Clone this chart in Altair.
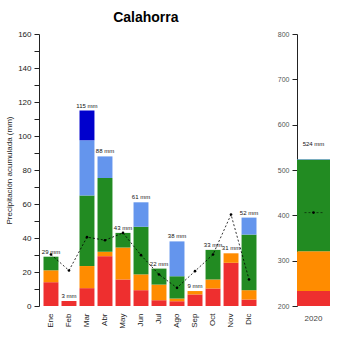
import altair as alt
import pandas as pd

months = ["Ene", "Feb", "Mar", "Abr", "May", "Jun", "Jul", "Ago", "Sep", "Oct", "Nov", "Dic"]
red = [14, 3, 10.5, 29.3, 15.6, 9.3, 3.4, 2.8, 6.8, 10.3, 25.4, 3.8]
orange = [7, 0, 13, 2.6, 18.8, 9.3, 9.2, 1.6, 2, 5.3, 5.6, 5.5]
green = [8, 0, 41.5, 43.4, 8.6, 28, 9.4, 13.1, 0, 17.4, 0, 32.7]
lightblue = [0, 0, 32.5, 12.7, 0, 14.4, 0, 20.5, 0, 0, 0, 10]
darkblue = [0, 0, 17.5, 0, 0, 0, 0, 0, 0, 0, 0, 0]
totals = [29, 3, 115, 88, 43, 61, 22, 38, 9, 33, 31, 52]
mean_line = [30.3, 20.9, 40.5, 38.7, 43, 29.9, 18.5, 10.7, 20.5, 30.3, 53.8, 15.6]
y_ticks = list(range(0, 161, 10))

year = ["2020"]
annual_parts = [233, 88, 202, 1]
annual_total = [524]
annual_mean = [406]
a_ticks = list(range(200, 801, 100))

cats = ["c1", "c2", "c3", "c4", "c5"]
colors = ["#EE2F2F", "#FF8C00", "#228B22", "#6495ED", "#0000CD"]
series = [red, orange, green, lightblue, darkblue]

rows = []
for ci, (c, vals) in enumerate(zip(cats, series)):
    for m, v in zip(months, vals):
        if v > 0:
            rows.append({"mes": m, "cat": c, "ord": ci, "v": v})
df = pd.DataFrame(rows)
df_tot = pd.DataFrame({"mes": months, "tot": totals,
                       "lab": [f"{t} mm" for t in totals], "media": mean_line})

arows = [{"a": year[0], "cat": cats[i], "ord": i, "v": v} for i, v in enumerate(annual_parts)]
dfa = pd.DataFrame(arows)
dfa_tot = pd.DataFrame({"a": year, "tot": [sum(annual_parts)],
                        "lab": [f"{t} mm" for t in annual_total], "media": annual_mean})

font = "Liberation Sans"
color_scale = alt.Scale(domain=cats, range=colors)

xm = alt.X("mes:N", sort=months, title=None,
           scale=alt.Scale(paddingInner=0.17, paddingOuter=0.25),
           axis=alt.Axis(labelAngle=-90, ticks=False, domain=False, labelPadding=7,
                         labelFontSize=8, labelColor="#222", labelFont=font))
yscale = alt.Scale(domain=[0, 160], nice=False)
yaxis = alt.Axis(values=y_ticks,
                 labelExpr="(datum.value % 20 === 0) ? format(datum.value, 'd') : ''",
                 labelOverlap=False,
                 grid=False, domainColor="#222", tickColor="#222", tickSize=5,
                 labelFontSize=8, labelColor="#222", labelPadding=3,
                 title="Precipitación acumulada (mm)", titleFontSize=8,
                 titleFontWeight="normal", titleColor="#222", titlePadding=4)

bars = alt.Chart(df).mark_bar().encode(
    x=xm,
    y=alt.Y("sum(v):Q", scale=yscale, axis=yaxis, stack="zero"),
    color=alt.Color("cat:N", scale=color_scale, legend=None),
    order=alt.Order("ord:Q", sort="ascending"),
)
labels = alt.Chart(df_tot).mark_text(fontSize=6, baseline="bottom", dy=-2, font=font, color="#111").encode(
    x=alt.X("mes:N", sort=months), y=alt.Y("tot:Q", axis=yaxis), text="lab:N")
line = alt.Chart(df_tot).mark_line(color="black", strokeWidth=0.8, strokeDash=[2, 2]).encode(
    x=alt.X("mes:N", sort=months), y=alt.Y("media:Q", axis=yaxis))
pts = alt.Chart(df_tot).mark_circle(color="black", size=7, opacity=1).encode(
    x=alt.X("mes:N", sort=months), y=alt.Y("media:Q", axis=yaxis))

left = alt.layer(bars, line, pts, labels).properties(width=222, height=272)

xa = alt.X("a:N", title=None, scale=alt.Scale(paddingInner=0, paddingOuter=0),
           axis=alt.Axis(labelAngle=0, ticks=False, domain=False, labelPadding=8,
                         labelFontSize=8, labelColor="#444", labelFont=font))
ascale = alt.Scale(domain=[200, 800], nice=False)
aaxis = alt.Axis(values=a_ticks, grid=False, domainColor="#222",
                 tickColor="#222", tickSize=5, labelFontSize=7, labelColor="#555",
                 labelPadding=3, title=None, labelOverlap=False)
abars = alt.Chart(dfa).mark_bar(clip=True).encode(
    x=xa,
    y=alt.Y("sum(v):Q", scale=ascale, axis=aaxis, stack="zero"),
    color=alt.Color("cat:N", scale=color_scale, legend=None),
    order=alt.Order("ord:Q", sort="ascending"),
)
alabels = alt.Chart(dfa_tot).mark_text(fontSize=6, baseline="bottom", dy=-12, font=font, color="#111").encode(
    x="a:N", y=alt.Y("tot:Q", axis=aaxis), text="lab:N")
amean = alt.Chart(dfa_tot).mark_point(shape="M-1,0L1,0", size=324, color="black",
                                      strokeWidth=0.8, strokeDash=[2, 2], filled=False).encode(
    x="a:N", y=alt.Y("media:Q", axis=aaxis))
apt = alt.Chart(dfa_tot).mark_circle(color="black", size=7, opacity=1).encode(
    x="a:N", y=alt.Y("media:Q", axis=aaxis))

right = alt.layer(abars, amean, apt, alabels).properties(width=33, height=272)

chart = alt.hconcat(left, right, spacing=16).properties(
    title=alt.TitleParams("Calahorra", fontSize=14, font=font, fontWeight="bold",
                          anchor="middle", dx=-22, offset=5),
    padding={"left": 5, "top": 11, "right": 5, "bottom": 5},
).configure(font=font, view=alt.ViewConfig(stroke=None),
            axis=alt.AxisConfig(labelOverlap=False))

chart.save("out.html", embed_options={"renderer": "svg", "actions": False})
